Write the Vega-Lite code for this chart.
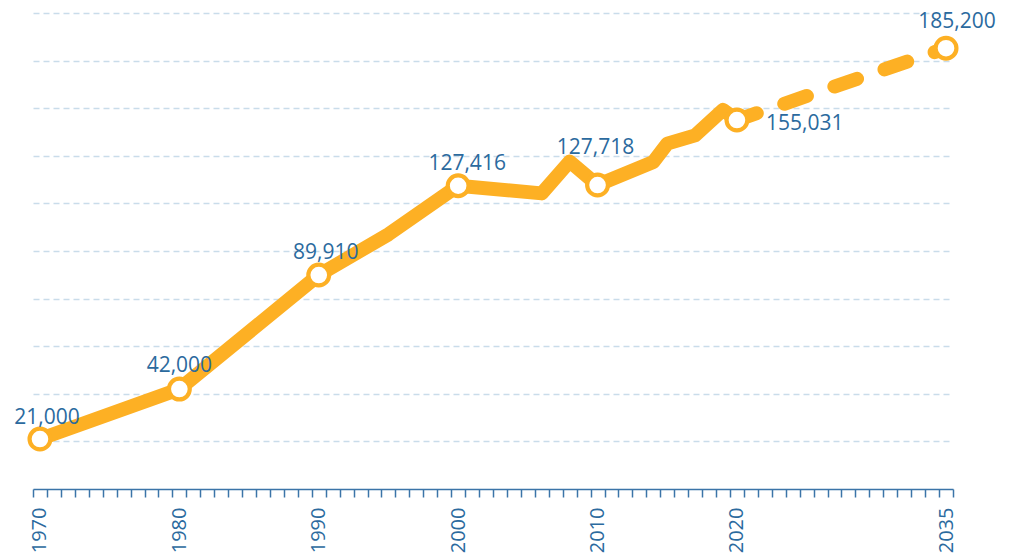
{
  "$schema": "https://vega.github.io/schema/vega-lite/v6.json",
  "width": 920,
  "height": 476,
  "autosize": {"type": "none"},
  "padding": {"left": 33, "top": 13, "right": 64, "bottom": 67},
  "background": "white",
  "config": {"view": {"stroke": null}, "font": "Open Sans"},
  "datasets": {
    "actual": [
      {"year": 1970, "value": 21000},
      {"year": 1980, "value": 42000},
      {"year": 1990, "value": 89910},
      {"year": 1995, "value": 107000},
      {"year": 2000, "value": 127416},
      {"year": 2006, "value": 124200},
      {"year": 2008, "value": 137600},
      {"year": 2010, "value": 127718},
      {"year": 2014, "value": 137400},
      {"year": 2015, "value": 145100},
      {"year": 2017, "value": 148600},
      {"year": 2019, "value": 159300},
      {"year": 2020, "value": 155031}
    ],
    "projection": [
      {"year": 2020, "value": 155031},
      {"year": 2035, "value": 185200}
    ],
    "labels": [
      {"year": 1970, "value": 21000},
      {"year": 1980, "value": 42000},
      {"year": 1990, "value": 89910},
      {"year": 2000, "value": 127416},
      {"year": 2010, "value": 127718},
      {"year": 2020, "value": 155031},
      {"year": 2035, "value": 185200}
    ]
  },
  "encoding": {
    "x": {
      "field": "year",
      "type": "quantitative",
      "scale": {"domain": [1969.5, 2035.5], "nice": false, "zero": false},
      "axis": {
        "title": null,
        "grid": false,
        "values": [1969.5,1970.5,1971.5,1972.5,1973.5,1974.5,1975.5,1976.5,1977.5,1978.5,1979.5,1980.5,1981.5,1982.5,1983.5,1984.5,1985.5,1986.5,1987.5,1988.5,1989.5,1990.5,1991.5,1992.5,1993.5,1994.5,1995.5,1996.5,1997.5,1998.5,1999.5,2000.5,2001.5,2002.5,2003.5,2004.5,2005.5,2006.5,2007.5,2008.5,2009.5,2010.5,2011.5,2012.5,2013.5,2014.5,2015.5,2016.5,2017.5,2018.5,2019.5,2020.5,2021.5,2022.5,2023.5,2024.5,2025.5,2026.5,2027.5,2028.5,2029.5,2030.5,2031.5,2032.5,2033.5,2034.5,2035.5],
        "tickCount": 200,
        "labelExpr": "indexof([1969.5,1979.5,1989.5,1999.5,2009.5,2019.5,2034.5], datum.value) >= 0 ? format(datum.value + 0.5, 'd') : ''",
        "labelOffset": 6.97,
        "labelAngle": -90,
        "labelAlign": "right",
        "labelBaseline": "middle",
        "labelPadding": 10,
        "labelFontSize": 20,
        "labelFont": "Open Sans",
        "labelColor": "#2b6a9e",
        "labelOverlap": false,
        "labelFlush": false,
        "labelBound": false,
        "domainColor": "#3b74a8",
        "domainWidth": 1.5,
        "tickColor": "#3b74a8",
        "tickWidth": 1.5,
        "tickSize": 8
      }
    },
    "y": {
      "field": "value",
      "type": "quantitative",
      "scale": {"domain": [0, 200000], "nice": false},
      "axis": {
        "title": null,
        "labels": false,
        "ticks": false,
        "domain": false,
        "grid": true,
        "values": [20000, 40000, 60000, 80000, 100000, 120000, 140000, 160000, 180000, 200000],
        "gridColor": "#c9dcea",
        "gridWidth": 1.5,
        "gridDash": [6, 4]
      }
    }
  },
  "layer": [
    {
      "data": {"name": "actual"},
      "mark": {"type": "line", "color": "#fdb024", "strokeWidth": 14, "strokeCap": "round", "strokeJoin": "round"}
    },
    {
      "data": {"name": "projection"},
      "mark": {"type": "line", "color": "#fdb024", "strokeWidth": 14, "strokeCap": "round", "strokeJoin": "round", "strokeDash": [24, 29], "strokeDashOffset": 3}
    },
    {
      "data": {"name": "labels"},
      "mark": {"type": "point", "shape": "circle", "filled": true, "fill": "white", "stroke": "#fdb024", "strokeWidth": 4.2, "size": 433, "opacity": 1}
    },
    {
      "data": {"name": "labels"},
      "transform": [{"filter": "datum.year == 1970"}],
      "mark": {"type": "text", "align": "center", "baseline": "alphabetic", "dx": 7, "dy": -15, "fontSize": 21, "font": "Open Sans", "color": "#2b6a9e"},
      "encoding": {"text": {"field": "value", "type": "quantitative", "format": ",d"}}
    },
    {
      "data": {"name": "labels"},
      "transform": [{"filter": "datum.year == 1980"}],
      "mark": {"type": "text", "align": "center", "baseline": "alphabetic", "dx": 0, "dy": -17, "fontSize": 21, "font": "Open Sans", "color": "#2b6a9e"},
      "encoding": {"text": {"field": "value", "type": "quantitative", "format": ",d"}}
    },
    {
      "data": {"name": "labels"},
      "transform": [{"filter": "datum.year == 1990"}],
      "mark": {"type": "text", "align": "center", "baseline": "alphabetic", "dx": 7, "dy": -16, "fontSize": 21, "font": "Open Sans", "color": "#2b6a9e"},
      "encoding": {"text": {"field": "value", "type": "quantitative", "format": ",d"}}
    },
    {
      "data": {"name": "labels"},
      "transform": [{"filter": "datum.year == 2000"}],
      "mark": {"type": "text", "align": "center", "baseline": "alphabetic", "dx": 9, "dy": -16, "fontSize": 21, "font": "Open Sans", "color": "#2b6a9e"},
      "encoding": {"text": {"field": "value", "type": "quantitative", "format": ",d"}}
    },
    {
      "data": {"name": "labels"},
      "transform": [{"filter": "datum.year == 2010"}],
      "mark": {"type": "text", "align": "center", "baseline": "alphabetic", "dx": -2, "dy": -31, "fontSize": 21, "font": "Open Sans", "color": "#2b6a9e"},
      "encoding": {"text": {"field": "value", "type": "quantitative", "format": ",d"}}
    },
    {
      "data": {"name": "labels"},
      "transform": [{"filter": "datum.year == 2020"}],
      "mark": {"type": "text", "align": "left", "baseline": "alphabetic", "dx": 29, "dy": 10, "fontSize": 21, "font": "Open Sans", "color": "#2b6a9e"},
      "encoding": {"text": {"field": "value", "type": "quantitative", "format": ",d"}}
    },
    {
      "data": {"name": "labels"},
      "transform": [{"filter": "datum.year == 2035"}],
      "mark": {"type": "text", "align": "center", "baseline": "alphabetic", "dx": 11, "dy": -20, "fontSize": 21, "font": "Open Sans", "color": "#2b6a9e"},
      "encoding": {"text": {"field": "value", "type": "quantitative", "format": ",d"}}
    },
    {
      "data": {"values": [{}]},
      "mark": {"type": "rule", "color": "#222222", "strokeWidth": 1},
      "encoding": {
        "x": {"datum": 2035, "type": "quantitative"},
        "y": {"datum": 185200, "type": "quantitative"},
        "x2": {"datum": 2035.45},
        "y2": {"datum": 190700}
      }
    }
  ]
}
